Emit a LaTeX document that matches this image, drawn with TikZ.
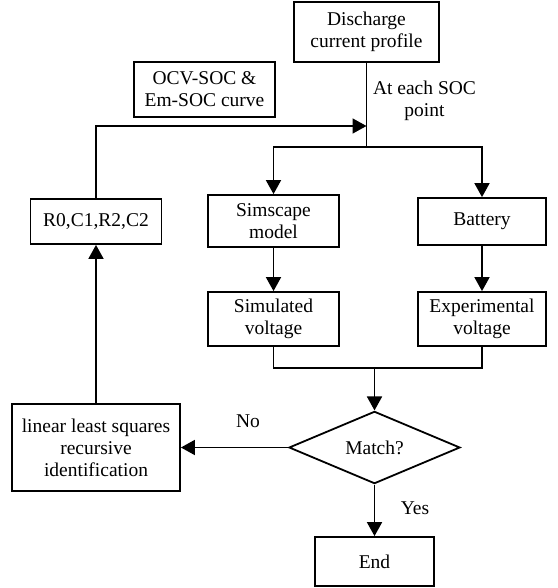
\documentclass[tikz,border=0pt]{standalone}
\usepackage{fontspec}
\setmainfont{Liberation Serif}
\usetikzlibrary{arrows.meta,shapes.geometric}
\begin{document}
\begin{tikzpicture}[x=1pt,y=-1pt,
  box/.style={draw,line width=1.8pt,inner sep=0pt,align=center,font=\fontsize{19.5}{22}\selectfont},
  lbl/.style={inner sep=0pt,align=center,font=\fontsize{19.5}{22}\selectfont},
  conn/.style={line width=1.8pt},
  arr/.style={line width=1.8pt,-{Triangle[length=14pt,width=15pt]}}]
\useasboundingbox (0,0) rectangle (557,588);
\node[box,minimum width=145pt,minimum height=60pt] (dis) at (366.5,32) {Discharge\\current profile};
\node[box,minimum width=141pt,minimum height=55pt] (ocv) at (204.5,89.5) {OCV-SOC \&\\Em-SOC curve};
\node[lbl] (soc) at (424.5,101) {At each SOC\\point};
\node[box,minimum width=131pt,minimum height=45pt] (r0) at (96,221.5) {R0,C1,R2,C2};
\node[box,minimum width=131pt,minimum height=52pt] (sim) at (273.5,221) {Simscape\\model};
\node[box,minimum width=128pt,minimum height=47pt] (bat) at (482,221.5) {Battery};
\node[box,minimum width=131pt,minimum height=54pt] (simv) at (273.5,319) {Simulated\\voltage};
\node[box,minimum width=128pt,minimum height=54pt] (expv) at (482,319) {Experimental\\voltage};
\node[box,diamond,minimum width=171pt,minimum height=62pt] (match) at (374.5,447.5) {Match?};
\node[box,minimum width=168pt,minimum height=87pt] (lin) at (96,447.5) {linear least squares\\recursive\\identification};
\node[box,minimum width=119pt,minimum height=49pt] (end) at (374.5,561.5) {End};
\node[lbl] (no) at (248,421) {No};
\node[lbl] (yes) at (415,508) {Yes};
\coordinate (j0) at (366.5,126);
\coordinate (j1) at (366.5,147);
\coordinate (j2) at (374.5,368);
\draw[conn] (dis) -- (j1);
\draw[arr] (j1) -| (sim);
\draw[arr] (j1) -| (bat);
\draw[arr] (r0) |- (j0);
\draw[arr] (sim) -- (simv);
\draw[arr] (bat) -- (expv);
\draw[conn] (simv) |- (j2) -| (expv);
\draw[arr] (j2) -- (match);
\draw[arr] (match) -- (lin);
\draw[arr] (lin) -- (r0);
\draw[arr] (match) -- (end);
\end{tikzpicture}
\end{document}
